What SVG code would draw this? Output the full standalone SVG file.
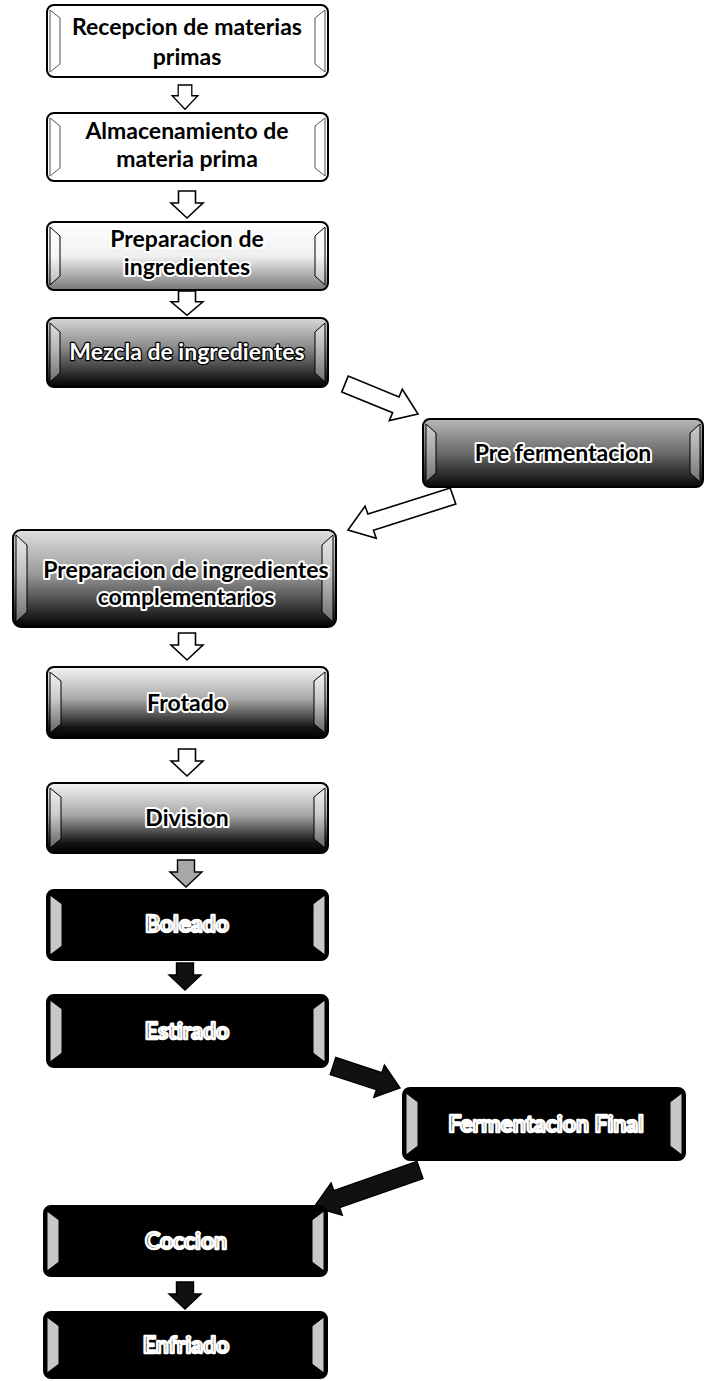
<svg xmlns="http://www.w3.org/2000/svg" width="708" height="1381" viewBox="0 0 708 1381">
  <style>
    .box { stroke: #000; stroke-width: 2; }
    .bev-w { fill: none; stroke: #555; stroke-width: 1; }
    .bev-g { fill: #fff; fill-opacity: 0.4; stroke: #000; stroke-width: 1; }
    .bev-d { fill: #c8c8c8; stroke: #000; stroke-width: 1; }
    text { font-family: Lato, "Liberation Sans", sans-serif; font-weight: bold; font-size: 23px; text-anchor: middle; }
    .tb { fill: #000; }
    .th { fill: #000; stroke: #fff; stroke-width: 4; stroke-linejoin: round; paint-order: stroke; }
    .tw { fill: #fff; stroke: #000; stroke-width: 2.5; stroke-linejoin: round; paint-order: stroke; }
    .to { fill: #000; stroke: #fff; stroke-width: 2.4; stroke-linejoin: round; }
    .ah { fill: #fff; stroke: #000; stroke-width: 1.6; stroke-linejoin: miter; }
    .ag { fill: #a8a8a8; stroke: #000; stroke-width: 1.4; }
    .ak { fill: #111; stroke: #000; stroke-width: 1.4; }
  </style>
  <defs>
    <linearGradient id="gA" x1="0" y1="0" x2="0" y2="1">
      <stop offset="0" stop-color="#fff"/>
      <stop offset="0.5" stop-color="#f0f0f0"/>
      <stop offset="1" stop-color="#777"/>
    </linearGradient>
    <linearGradient id="gB" x1="0" y1="0" x2="0" y2="1">
      <stop offset="0" stop-color="#d8d8d8"/>
      <stop offset="0.45" stop-color="#858585"/>
      <stop offset="1" stop-color="#000"/>
    </linearGradient>
    <linearGradient id="gC" x1="0" y1="0" x2="0" y2="1">
      <stop offset="0" stop-color="#b8b8b8"/>
      <stop offset="0.5" stop-color="#6a6a6a"/>
      <stop offset="1" stop-color="#080808"/>
    </linearGradient>
    <linearGradient id="gD" x1="0" y1="0" x2="0" y2="1">
      <stop offset="0" stop-color="#e0e0e0"/>
      <stop offset="0.45" stop-color="#9a9a9a"/>
      <stop offset="1" stop-color="#000"/>
    </linearGradient>
    <linearGradient id="gE" x1="0" y1="0" x2="0" y2="1">
      <stop offset="0" stop-color="#f4f4f4"/>
      <stop offset="0.45" stop-color="#a8a8a8"/>
      <stop offset="0.85" stop-color="#151515"/>
      <stop offset="1" stop-color="#000"/>
    </linearGradient>
    <!-- down arrow, tip at (0,27) -->
    <path id="dn" d="M-8.5,0 H8.5 V12 H16 L0,27 L-16,12 H-8.5 Z"/>
  </defs>

  <rect width="708" height="1381" fill="#fff"/>

  <!-- connectors -->
  <g id="connectors">
    <use href="#dn" class="ah" transform="translate(185,85) scale(0.8,0.9)"/>
    <use href="#dn" class="ah" transform="translate(187,191)"/>
    <use href="#dn" class="ah" transform="translate(187,291) scale(1,0.9)"/>
    <polygon class="ah" points="341.8,391.9 392.6,412.7 389.3,420.6 418,414 402.3,389.2 399,397 348.2,376.1"/>
    <polygon class="ah" points="450.2,488 367.9,514.1 365.1,506.1 348,530 376.2,538.2 373.5,530.2 455.8,504"/>
    <use href="#dn" class="ah" transform="translate(187,633)"/>
    <use href="#dn" class="ah" transform="translate(187,749)"/>
    <use href="#dn" class="ag" transform="translate(186,860)"/>
    <use href="#dn" class="ak" transform="translate(185,963)"/>
    <polygon class="ak" points="330.2,1074.6 376.3,1089.7 373.8,1097.3 400,1088 384.4,1065 381.9,1072.6 335.8,1057.5"/>
    <polygon class="ak" points="417,1161.5 333.7,1190.6 331.1,1183 314,1207 342.3,1215.1 339.6,1207.6 423,1178.5"/>
    <use href="#dn" class="ak" transform="translate(185,1282)"/>
  </g>

  <g id="n1">
    <rect class="box" x="47" y="5" width="281" height="72" rx="7" fill="#fff"/>
    <polygon class="bev-w" points="50,10 60,18 60,64 50,72"/>
    <polygon class="bev-w" points="325,10 315,18 315,64 325,72"/>
    <text class="tb" x="187" y="35">Recepcion de materias</text>
    <text class="tb" x="187" y="65">primas</text>
  </g>

  <g id="n2">
    <rect class="box" x="47" y="113" width="281" height="68" rx="7" fill="#fff"/>
    <polygon class="bev-w" points="50,118 60,126 60,168 50,176"/>
    <polygon class="bev-w" points="325,118 315,126 315,168 325,176"/>
    <text class="tb" x="187" y="139">Almacenamiento de</text>
    <text class="tb" x="187" y="167">materia prima</text>
  </g>

  <g id="n3">
    <rect class="box" x="47" y="222" width="281" height="68" rx="7" fill="url(#gA)"/>
    <polygon class="bev-g" points="50,227 60,236 60,276 50,285"/>
    <polygon class="bev-g" points="325,227 315,236 315,276 325,285"/>
    <text class="th" x="187" y="247">Preparacion de</text>
    <text class="th" x="187" y="275">ingredientes</text>
  </g>

  <g id="n4">
    <rect class="box" x="47" y="318" width="281" height="69" rx="7" fill="url(#gB)"/>
    <polygon class="bev-g" points="50,323 60,332 60,373 50,382"/>
    <polygon class="bev-g" points="325,323 315,332 315,373 325,382"/>
    <text class="tw" x="187" y="360">Mezcla de ingredientes</text>
  </g>

  <g id="n5">
    <rect class="box" x="423" y="419" width="280" height="68" rx="7" fill="url(#gC)"/>
    <polygon class="bev-g" points="426,424 436,433 436,473 426,482"/>
    <polygon class="bev-g" points="700,424 690,433 690,473 700,482"/>
    <text class="th" x="563" y="461">Pre fermentacion</text>
  </g>

  <g id="n6">
    <rect class="box" x="13" y="530" width="323" height="97" rx="8" fill="url(#gD)"/>
    <polygon class="bev-g" points="16,535 27,545 27,612 16,622"/>
    <polygon class="bev-g" points="333,535 322,545 322,612 333,622"/>
    <text class="th" x="186" y="578">Preparacion de ingredientes</text>
    <text class="th" x="186" y="605">complementarios</text>
  </g>

  <g id="n7">
    <rect class="box" x="47" y="667" width="281" height="71" rx="7" fill="url(#gE)"/>
    <polygon class="bev-g" points="50,672 61,681 61,724 50,733"/>
    <polygon class="bev-g" points="325,672 314,681 314,724 325,733"/>
    <text class="th" x="187" y="711">Frotado</text>
  </g>

  <g id="n8">
    <rect class="box" x="47" y="783" width="281" height="70" rx="7" fill="url(#gE)"/>
    <polygon class="bev-g" points="50,788 61,797 61,839 50,848"/>
    <polygon class="bev-g" points="325,788 314,797 314,839 325,848"/>
    <text class="th" x="187" y="826">Division</text>
  </g>

  <g id="n9">
    <rect class="box" x="47" y="890" width="281" height="70" rx="7" fill="#000"/>
    <polygon class="bev-d" points="50,895 62,904 62,946 50,955"/>
    <polygon class="bev-d" points="325,895 313,904 313,946 325,955"/>
    <text class="to" x="187" y="932">Boleado</text>
  </g>

  <g id="n10">
    <rect class="box" x="47" y="995" width="281" height="72" rx="7" fill="#000"/>
    <polygon class="bev-d" points="50,1000 62,1009 62,1053 50,1062"/>
    <polygon class="bev-d" points="325,1000 313,1009 313,1053 325,1062"/>
    <text class="to" x="187" y="1039">Estirado</text>
  </g>

  <g id="n11">
    <rect class="box" x="403" y="1088" width="282" height="72" rx="7" fill="#000"/>
    <polygon class="bev-d" points="406,1093 418,1102 418,1146 406,1155"/>
    <polygon class="bev-d" points="682,1093 670,1102 670,1146 682,1155"/>
    <text class="to" x="546" y="1132">Fermentacion Final</text>
  </g>

  <g id="n12">
    <rect class="box" x="44" y="1206" width="283" height="70" rx="7" fill="#000"/>
    <polygon class="bev-d" points="47,1211 59,1220 59,1262 47,1271"/>
    <polygon class="bev-d" points="324,1211 312,1220 312,1262 324,1271"/>
    <text class="to" x="186" y="1249">Coccion</text>
  </g>

  <g id="n13">
    <rect class="box" x="44" y="1312" width="283" height="66" rx="7" fill="#000"/>
    <polygon class="bev-d" points="47,1317 59,1326 59,1364 47,1373"/>
    <polygon class="bev-d" points="324,1317 312,1326 312,1364 324,1373"/>
    <text class="to" x="186" y="1353">Enfriado</text>
  </g>
</svg>
